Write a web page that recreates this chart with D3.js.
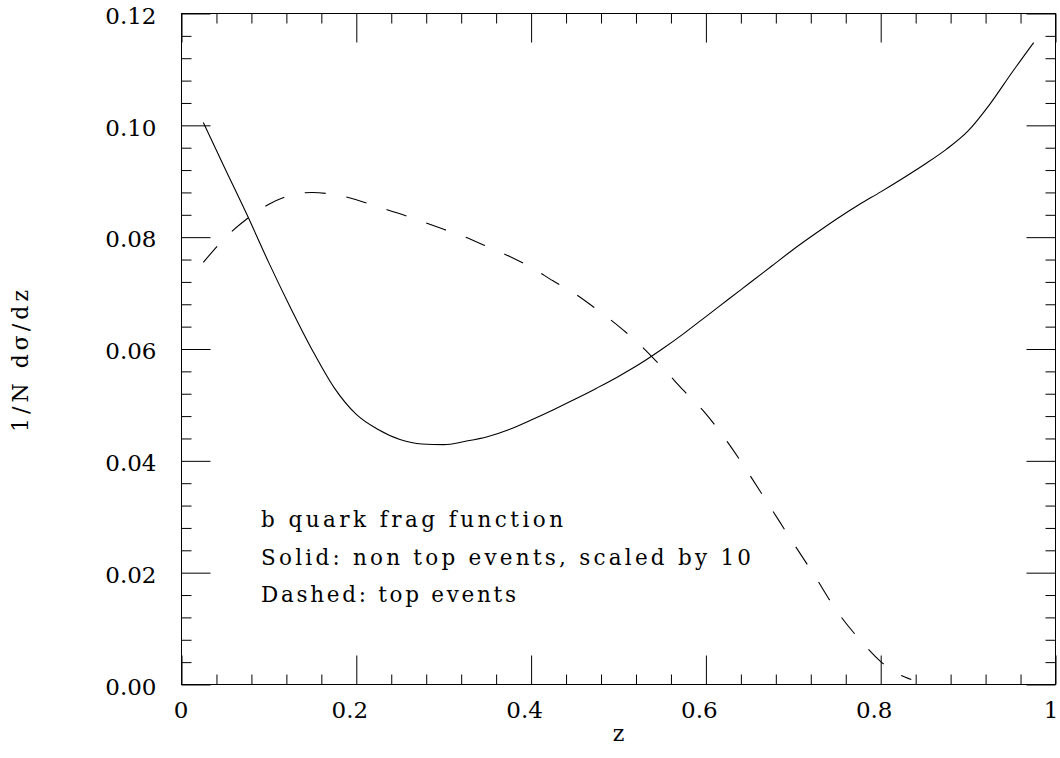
<!DOCTYPE html>
<html>
<head>
<meta charset="utf-8">
<script src="https://cdn.jsdelivr.net/npm/d3@7"></script>
<style>
  body { margin: 0; background: #fff; }
  text { font-family: "DejaVu Serif", serif; fill: #000; }
</style>
</head>
<body>
<div id="chart"></div>
<script>
// values
let solidZ = [0.025, 0.05, 0.075, 0.10, 0.125, 0.15, 0.175, 0.20, 0.225, 0.25,
              0.275, 0.30, 0.325, 0.35, 0.375, 0.40, 0.425, 0.45, 0.475, 0.50,
              0.525, 0.55, 0.575, 0.60, 0.625, 0.65, 0.675, 0.70, 0.725, 0.75,
              0.775, 0.80, 0.825, 0.85, 0.875, 0.90, 0.925, 0.95, 0.975];
let solidValues = [0.1005, 0.0922, 0.0840, 0.0754, 0.0673, 0.0597, 0.0530, 0.0483, 0.0456, 0.0438,
                   0.0430, 0.0429, 0.0435, 0.0443, 0.0456, 0.0473, 0.0491, 0.0510, 0.0530, 0.0551,
                   0.0574, 0.0600, 0.0628, 0.0658, 0.0688, 0.0718, 0.0748, 0.0778, 0.0806, 0.0833,
                   0.0858, 0.0881, 0.0905, 0.0930, 0.0957, 0.0990, 0.1038, 0.1094, 0.1148];

let dashedZ = [0.025, 0.05, 0.075, 0.10, 0.125, 0.15, 0.175, 0.20, 0.225, 0.25,
               0.275, 0.30, 0.325, 0.35, 0.375, 0.40, 0.425, 0.45, 0.475, 0.50,
               0.525, 0.55, 0.575, 0.60, 0.625, 0.65, 0.675, 0.70, 0.725, 0.75,
               0.775, 0.80, 0.82, 0.835];
let dashedValues = [0.0755, 0.0799, 0.0833, 0.0859, 0.0875, 0.0880, 0.0876, 0.0867, 0.0854, 0.0842,
                    0.0828, 0.0814, 0.0800, 0.0783, 0.0766, 0.0746, 0.0722, 0.0699, 0.0671, 0.0641,
                    0.0607, 0.0567, 0.0525, 0.0484, 0.0433, 0.0375, 0.0314, 0.0253, 0.0193, 0.0131,
                    0.0082, 0.0041, 0.0019, 0.0009];

let xTicks = [0, 0.2, 0.4, 0.6, 0.8, 1];
let xTickLabels = ["0", "0.2", "0.4", "0.6", "0.8", "1"];
let yTicks = [0, 0.02, 0.04, 0.06, 0.08, 0.10, 0.12];
let yTickLabels = ["0.00", "0.02", "0.04", "0.06", "0.08", "0.10", "0.12"];
let notes = ["b quark frag function", "Solid: non top events, scaled by 10", "Dashed: top events"];

let W = 1060, H = 758;
let pLeft = 181.5, pTop = 13.5, pRight = 1055.5, pBottom = 684.5;

let svg = d3.select("#chart").append("svg")
  .attr("width", W).attr("height", H);

let x = d3.scaleLinear().domain([0, 1]).range([pLeft, pRight]);
let y = d3.scaleLinear().domain([0, 0.12]).range([pBottom, pTop]);

let minorX = d3.range(0, 1.0001, 0.04).filter(v => Math.abs(v / 0.2 - Math.round(v / 0.2)) > 1e-6);
let minorY = d3.range(0, 0.12001, 0.004).filter(v => Math.abs(v / 0.02 - Math.round(v / 0.02)) > 1e-6);

function tickAxis(axis, vals, size, fmt, tx, ty) {
  let g = svg.append("g").attr("transform", `translate(${tx},${ty})`)
    .call(axis.tickValues(vals).tickSize(size).tickFormat(fmt));
  g.select(".domain").remove();
  g.selectAll("line").attr("stroke", "#000");
  return g;
}

// bottom
let gb = tickAxis(d3.axisBottom(x), xTicks, -29, (d, i) => xTickLabels[i], 0, pBottom);
gb.selectAll("text").attr("font-size", 23).attr("y", 17)
  .attr("dx", (d, i) => i == xTicks.length - 1 ? -5 : (xTickLabels[i].length > 1 ? -7 : -1));
tickAxis(d3.axisBottom(x), minorX, -10, "", 0, pBottom);
// top
tickAxis(d3.axisTop(x), xTicks, -29, "", 0, pTop);
tickAxis(d3.axisTop(x), minorX, -10, "", 0, pTop);
// left
let gl = tickAxis(d3.axisLeft(y), yTicks, -29, (d, i) => yTickLabels[i], pLeft, 0);
gl.selectAll("text").attr("font-size", 23).attr("x", -25).attr("dy", "0.42em");
tickAxis(d3.axisLeft(y), minorY, -10, "", pLeft, 0);
// right
tickAxis(d3.axisRight(y), yTicks, -29, "", pRight, 0);
tickAxis(d3.axisRight(y), minorY, -10, "", pRight, 0);

// frame
svg.append("rect")
  .attr("x", pLeft).attr("y", pTop)
  .attr("width", pRight - pLeft).attr("height", pBottom - pTop)
  .attr("fill", "none").attr("stroke", "#000").attr("stroke-width", 1);

let line = d3.line()
  .x(d => x(d[0])).y(d => y(d[1]))
  .curve(d3.curveMonotoneX);

svg.append("path")
  .datum(d3.zip(solidZ, solidValues))
  .attr("d", line)
  .attr("fill", "none").attr("stroke", "#000").attr("stroke-width", 1.1);

svg.append("path")
  .datum(d3.zip(dashedZ, dashedValues))
  .attr("d", line)
  .attr("fill", "none").attr("stroke", "#000").attr("stroke-width", 1.1)
  .attr("stroke-dasharray", "21,21");

// annotations
let noteWidths = [302, 490, 255];
svg.selectAll("text.note").data(notes).enter().append("text")
  .attr("class", "note")
  .attr("x", 261)
  .attr("y", (d, i) => 527 + i * 37.5)
  .attr("font-size", 21.5)
  .attr("textLength", (d, i) => noteWidths[i])
  .attr("lengthAdjust", "spacing")
  .text(d => d);

// axis titles
svg.append("text")
  .attr("x", (pLeft + pRight) / 2).attr("y", 741)
  .attr("text-anchor", "middle")
  .attr("font-size", 22)
  .text("z");

svg.append("text")
  .attr("transform", `translate(28,${361}) rotate(-90)`)
  .attr("text-anchor", "middle")
  .attr("font-size", 22)
  .attr("textLength", 142)
  .attr("lengthAdjust", "spacing")
  .text("1/N dσ/dz");
</script>
</body>
</html>
